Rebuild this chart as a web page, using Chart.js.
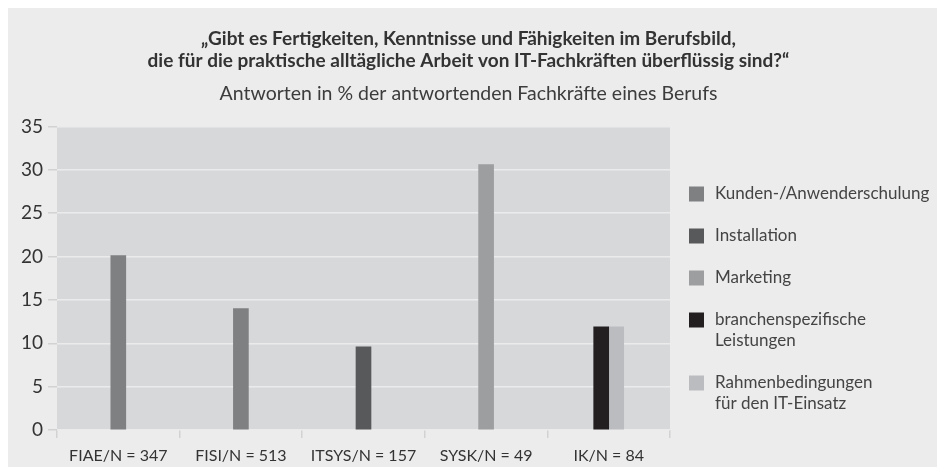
<!DOCTYPE html>
<html>
<head>
<meta charset="utf-8">
<script src="https://cdn.jsdelivr.net/npm/chart.js@4/dist/chart.umd.min.js"></script>
<style>
    html, body { margin: 0; padding: 0; background: #fff; }
    #wrap { width: 937px; height: 468px; position: relative; }
</style>
</head>
<body>
<div id="wrap"><canvas id="skillsChart"></canvas></div>
<script>
// ============================ data ==============================
const categories = ['FIAE/N = 347', 'FISI/N = 513', 'ITSYS/N = 157', 'SYSK/N = 49', 'IK/N = 84'];
const seriesNames = ['Kunden-/Anwenderschulung', 'Installation', 'Marketing', 'branchenspezifische\nLeistungen', 'Rahmenbedingungen\nfür den IT-Einsatz'];
const kundenValues = [20.1, 14.0, null, null, null];
const installationValues = [null, null, 9.6, null, null];
const marketingValues = [null, null, null, 30.6, null];
const branchenValues = [null, null, null, null, 11.9];
const rahmenValues = [null, null, null, null, 11.9];
const yTicks = [0, 5, 10, 15, 20, 25, 30, 35];
const seriesColors = ['#7f8081', '#58595b', '#9d9ea0', '#231f20', '#bbbcbf'];

const titleLines = ['„Gibt es Fertigkeiten, Kenntnisse und Fähigkeiten im Berufsbild,', 'die für die praktische alltägliche Arbeit von IT-Fachkräften überflüssig sind?“'];
const subtitleText = 'Antworten in % der antwortenden Fachkräfte eines Berufs';

// ============================ plugins ==============================
// background panel + plot area
const panelBg = {
    id: 'panelBg',
    beforeDraw(chart) {
        const {ctx, chartArea} = chart;
        ctx.save();
        ctx.fillStyle = '#ffffff';
        ctx.fillRect(0, 0, chart.width, chart.height);
        ctx.fillStyle = '#ececec';
        ctx.fillRect(8, 8, chart.width - 8, chart.height - 9);
        ctx.fillStyle = '#d7d8da';
        ctx.fillRect(chartArea.left, chartArea.top, chartArea.right - chartArea.left, chartArea.bottom - chartArea.top);
        ctx.restore();
    }
};

// legend on the right, labels may have two lines
const sideLegend = {
    id: 'sideLegend',
    afterDraw(chart) {
        const {ctx} = chart;
        const boxX = 689, textX = 715, box = 15, lineH = 21;
        let y = 194;
        ctx.save();
        ctx.font = '17px Lato';
        ctx.textBaseline = 'middle';
        chart.data.datasets.forEach(ds => {
            const lines = ds.label.split('\n');
            ctx.fillStyle = ds.backgroundColor;
            ctx.fillRect(boxX, y - box / 2, box, box);
            ctx.fillStyle = '#444';
            lines.forEach((line, i) => ctx.fillText(line, textX, y + i * lineH));
            y += lineH * lines.length + 21;
        });
        ctx.restore();
    }
};

// ============================ chart ==============================
document.addEventListener('DOMContentLoaded', function () {
    const valueLists = [kundenValues, installationValues, marketingValues, branchenValues, rahmenValues];
    const ctx = document.getElementById('skillsChart').getContext('2d');

    new Chart(ctx, {
        type: 'bar',
        data: {
            labels: categories,
            datasets: valueLists.map((vals, i) => ({
                label: seriesNames[i],
                data: vals,
                backgroundColor: seriesColors[i],
                borderWidth: 0,
                barThickness: 15,
                skipNull: true
            }))
        },
        options: {
            responsive: true,
            maintainAspectRatio: false,
            animation: false,
            layout: {
                padding: 0
            },
            plugins: {
                legend: {display: false},
                tooltip: {enabled: false},
                title: {
                    display: true,
                    text: titleLines,
                    color: '#333',
                    font: {family: 'Lato', size: 19, weight: 'bold', lineHeight: 1.16},
                    padding: {top: 28, bottom: 10}
                },
                subtitle: {
                    display: true,
                    text: subtitleText,
                    color: '#3c3c3c',
                    font: {family: 'Lato', size: 19.5, lineHeight: 1.2},
                    padding: {top: 0, bottom: 21}
                }
            },
            scales: {
                x: {
                    grid: {
                        offset: true,
                        drawOnChartArea: false,
                        tickLength: 8,
                        tickColor: '#d2d2d2',
                        lineWidth: 1.5
                    },
                    border: {display: false},
                    ticks: {
                        color: '#333',
                        font: {family: 'Lato', size: 16},
                        padding: 8,
                        maxRotation: 0,
                        autoSkip: false
                    },
                    afterFit: scale => { scale.height = 38; }
                },
                y: {
                    min: 0,
                    max: 35,
                    afterBuildTicks: scale => { scale.ticks = yTicks.map(v => ({value: v})); },
                    grid: {
                        color: '#ebebeb',
                        lineWidth: 1.5,
                        tickLength: 9,
                        tickColor: '#d2d2d2'
                    },
                    border: {display: false},
                    ticks: {
                        color: '#333',
                        font: {family: 'Lato', size: 19},
                        padding: 5
                    },
                    afterFit: scale => { scale.width = 57; }
                },
                // empty axis that keeps room for the legend on the right
                legendSpace: {
                    position: 'right',
                    grid: {display: false},
                    border: {display: false},
                    ticks: {display: false},
                    afterFit: scale => { scale.width = 267; }
                }
            }
        },
        plugins: [panelBg, sideLegend]
    });
});
</script>
</body>
</html>
